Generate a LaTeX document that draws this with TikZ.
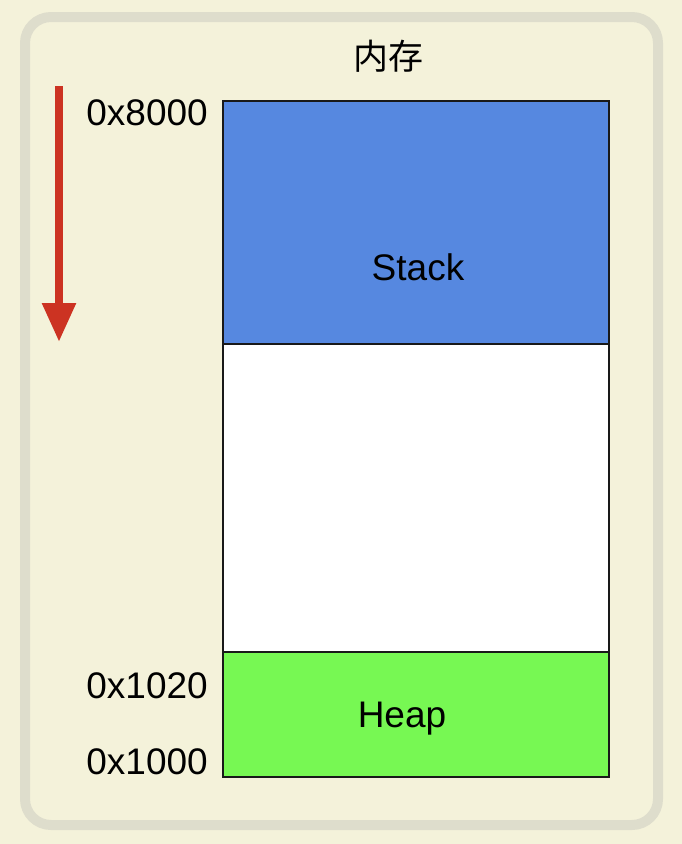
\documentclass[tikz,border=0pt]{standalone}
\usepackage{fontspec}
\setmainfont{Liberation Sans}
\newfontfamily\cjk{Noto Sans CJK SC}
\usetikzlibrary{arrows.meta}
\definecolor{paper}{HTML}{F4F2DA}
\definecolor{frame}{HTML}{DEDDCC}
\definecolor{stackblue}{HTML}{5688E0}
\definecolor{heapgreen}{HTML}{77F853}
\definecolor{growred}{HTML}{CC3322}
\tikzset{
  region/.style={draw=black!90, line width=1.6pt},
  addr/.style={anchor=east, font=\fontsize{37}{40}\selectfont, inner sep=0pt},
  lbl/.style={font=\fontsize{37}{40}\selectfont, inner sep=0pt},
}
\begin{document}
\begin{tikzpicture}[x=1pt, y=-1pt]
  \fill[paper] (0,0) rectangle (682,844);
  \useasboundingbox (0,0) rectangle (682,844);
  % outer panel
  \draw[frame, line width=10pt, rounded corners=26pt] (25,17) rectangle (658,825);
  \node[font=\cjk\fontsize{35}{38}\selectfont, inner sep=0pt] (title) at (388,56) {内存};
  % memory regions
  \node[region, fill=stackblue, minimum width=386pt, minimum height=243pt, anchor=north west, inner sep=0pt] (stack) at (222,100) {};
  \node[region, fill=white, minimum width=386pt, minimum height=308pt, anchor=north west, inner sep=0pt] (free) at (222,343) {};
  \node[region, fill=heapgreen, minimum width=386pt, minimum height=125pt, anchor=north west, inner sep=0pt] (heap) at (222,651) {};
  \node[lbl] (stacklbl) at (418,267) {Stack};
  \node[lbl] (heaplbl) at (402,719) {Heap};
  % addresses
  \node[addr] (a8000) at (208,113) {0x8000};
  \node[addr] (a1020) at (208,686) {0x1020};
  \node[addr] (a1000) at (208,762) {0x1000};
  % growth direction
  \coordinate (gtop) at (59,86);
  \coordinate (gbot) at (59,342);
  \draw[growred, line width=8.5pt, -{Triangle[width=32pt, length=39pt]}] (gtop) -- (gbot);
\end{tikzpicture}
\end{document}
